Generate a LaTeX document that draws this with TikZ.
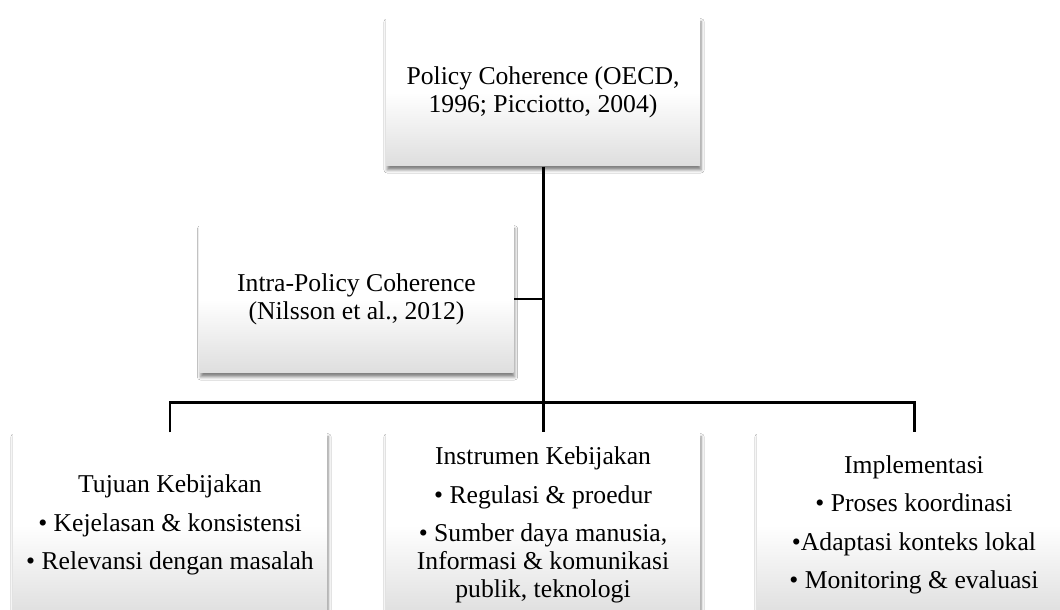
\documentclass[tikz,border=0pt]{standalone}
\usepackage{fontspec}
\setmainfont{Liberation Serif}
\usetikzlibrary{positioning, shadows.blur}
\newcommand\gap{\\[2.9pt]}

\tikzset{
  box/.style = {rectangle, minimum width = 3.14cm, minimum height = 1.48cm,
    inner sep = 1pt, align = center, top color = white, bottom color = black!13,
    middle color = white,
    blur shadow = {shadow xshift = 0.3pt, shadow yshift = -1.1pt,
      shadow blur radius = 0.9pt, shadow opacity = 50},
    font = \fontsize{7.3}{8}\selectfont},
  link/.style = {line width = 0.85pt, black}
}

\begin{document}
\begin{tikzpicture}
     \useasboundingbox (0, 0) rectangle (10.6, -6.1);
     \clip (0, 0) rectangle (10.6, -6.1);
     \fill [white] (0, 0) rectangle (10.6, -6.1);

     \node [box] (pc) at (5.43, -0.92) {Policy Coherence (OECD,\\1996; Picciotto, 2004)};
     \node [box] (intra) at (3.565, -2.99) {Intra-Policy Coherence\\(Nilsson et al., 2012)};

     \node [box, minimum height = 1.84cm] (tujuan) at (1.70, -5.25)
          {Tujuan Kebijakan\gap • Kejelasan \& konsistensi\gap • Relevansi dengan masalah};
     \node [box, minimum height = 1.84cm] (instrumen) at (5.43, -5.25)
          {Instrumen Kebijakan\gap • Regulasi \& proedur\gap • Sumber daya manusia,\\Informasi \& komunikasi\\publik, teknologi};
     \node [box, minimum height = 1.84cm] (impl) at (9.14, -5.25)
          {Implementasi\gap • Proses koordinasi\gap •Adaptasi konteks lokal\gap • Monitoring \& evaluasi};

     \draw [link] (pc.south) -- (instrumen.north);
     \draw [link] (intra.east) -- (intra.east -| pc.south);
     \draw [link] (tujuan.north) -- ++(0, 0.30) -| (impl.north);
    \end{tikzpicture}
\end{document}
